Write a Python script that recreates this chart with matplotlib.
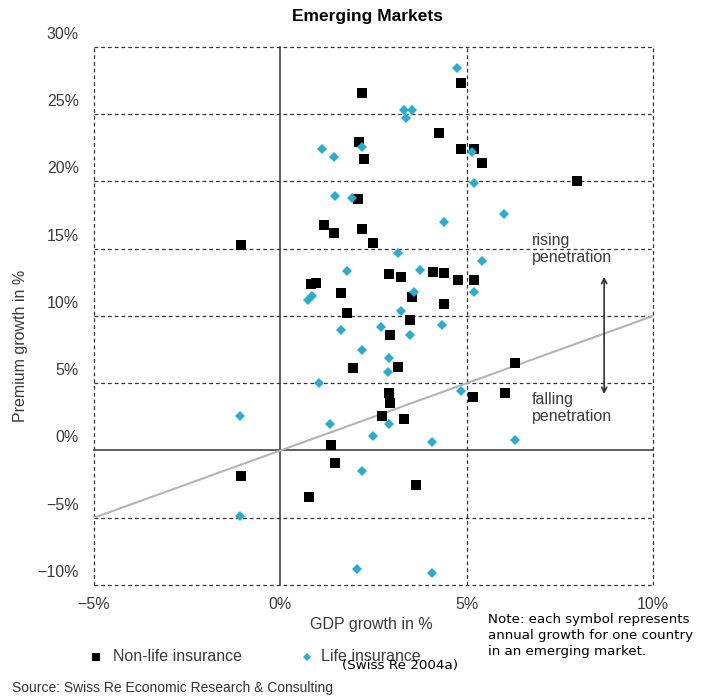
import matplotlib.pyplot as plt
from matplotlib.lines import Line2D
from matplotlib.transforms import ScaledTranslation

# GDP growth (x) and premium growth (y), in %, one point per country
nonlife_gdp = [2.18, 2.11, 2.24, 2.09, 1.17, 1.44, 2.19, 2.50, -1.05, 4.85,
               4.25, 4.84, 5.21, 5.41, 7.97, 0.83, 0.97, 1.62, 1.80, 1.96,
               2.92, 3.25, 4.11, 4.39, 4.76, 5.21, 3.54, 4.38, 3.49, 2.95,
               3.17, 6.31, 2.91, 5.17, 6.03, 2.95, 2.72, 3.33, 3.63, 1.37,
               1.48, -1.05, 0.77]
nonlife_premium = [26.6, 22.9, 21.7, 18.7, 16.8, 16.2, 16.5, 15.4, 15.3, 27.3,
                   23.6, 22.4, 22.4, 21.4, 20.0, 12.35, 12.45, 11.7, 10.2, 6.1,
                   13.1, 12.9, 13.25, 13.2, 12.7, 12.7, 11.4, 10.9, 9.7, 8.6,
                   6.2, 6.5, 4.3, 4.0, 4.3, 3.5, 2.6, 2.35, -2.55, 0.4,
                   -0.9, -1.9, -3.45]

life_gdp = [4.75, 3.31, 3.54, 3.36, 5.15, 5.21, 4.38, 6.01, 2.18, 1.13,
            1.44, 1.48, 1.92, 1.79, 0.75, 0.84, 1.62, 2.19, 1.04, 3.15,
            5.42, 3.74, 5.19, 3.60, 3.25, 2.70, 4.35, 3.47, 2.92, 2.90,
            4.85, 2.92, 4.08, 6.30, 4.06, -1.07, 1.34, 2.48, 2.18, -1.07,
            2.07]
life_premium = [28.4, 25.3, 25.35, 24.7, 22.2, 19.9, 17.0, 17.6, 22.55, 22.4,
                21.85, 18.95, 18.75, 13.35, 11.2, 11.5, 8.95, 7.45, 5.0, 14.7,
                14.1, 13.4, 11.8, 11.8, 10.4, 9.2, 9.3, 8.55, 6.85, 5.8,
                4.45, 1.95, 0.65, 0.75, -9.1, 2.6, 2.0, 1.05, -1.55, -4.9,
                -8.8]

x_ticks = [-5, 0, 5, 10]
x_tick_labels = ["\u22125%", "0%", "5%", "10%"]
y_ticks = [-10, -5, 0, 5, 10, 15, 20, 25, 30]
y_tick_labels = ["\u221210%", "\u22125%", "0%", "5%", "10%", "15%", "20%", "25%", "30%"]

# reference line: premium growth equal to GDP growth
trend_x = [-5, 10]
trend_y = [v for v in trend_x]

life_color = "#27AECF"
grid_color = "#333333"
text_color = "#3a3a3a"
font = "Liberation Sans"

fig = plt.figure(figsize=(7.05, 6.98), dpi=100)
ax = fig.add_axes([0.1333, 0.1619, 0.7929, 0.7708])
ax.set_xlim(x_ticks[0], x_ticks[-1])
ax.set_ylim(y_ticks[0], y_ticks[-1])
for side in ax.spines.values():
    side.set_visible(False)

# dashed frame and grid, solid zero axes
dash = (0, (3.0, 2.4))
for y in y_ticks:
    if y == 0:
        ax.axhline(y, color=grid_color, lw=1.1, zorder=2, clip_on=False)
    else:
        ax.axhline(y, color=grid_color, lw=0.9, ls=dash, zorder=1, clip_on=False)
for x in x_ticks:
    if x == 0:
        ax.axvline(x, color=grid_color, lw=1.1, zorder=2, clip_on=False)
    else:
        ax.axvline(x, color=grid_color, lw=0.9, ls=dash, zorder=1, clip_on=False)

ax.plot(trend_x, trend_y, color="#b3b3b3", lw=1.5, zorder=3)

ax.plot(nonlife_gdp, nonlife_premium, ls="none", marker="s", ms=6.6,
        color="black", mew=0, zorder=4)
ax.plot(life_gdp, life_premium, ls="none", marker="D", ms=4.8,
        color=life_color, mew=0, zorder=5)

# x ticks as usual
ax.set_xticks(x_ticks, x_tick_labels)
ax.tick_params(axis="x", length=0, pad=8.5, labelsize=11.5, labelcolor=text_color)
for lab in ax.get_xticklabels():
    lab.set_fontfamily(font)

# y tick labels sit a bit above their grid lines in the original
ax.set_yticks([])
lift = ScaledTranslation(0, 0.125, fig.dpi_scale_trans)
for y, lab in zip(y_ticks, y_tick_labels):
    ax.text(-0.027, y, lab, transform=ax.get_yaxis_transform() + lift,
            ha="right", va="center", fontsize=11.5, color=text_color, family=font)

ax.text(6.76, 14.96, "rising\npenetration", ha="left", va="center",
        fontsize=11.5, color=text_color, family=font, linespacing=1.15)
ax.text(6.76, 3.15, "falling\npenetration", ha="left", va="center",
        fontsize=11.5, color=text_color, family=font, linespacing=1.15)
ax.annotate("", xy=(8.69, 13.12), xytext=(8.69, 3.99),
            arrowprops=dict(arrowstyle="<->", color=grid_color, lw=1.2,
                            mutation_scale=9))

fig.text(368 / 705, 1 - 16 / 698, "Emerging Markets", ha="center", va="center",
         fontsize=12.5, fontweight="bold", family=font)
fig.text(21 / 705, 1 - 346 / 698, "Premium growth in %", rotation=90,
         ha="center", va="center", fontsize=11.5, color=text_color, family=font)
fig.text(371 / 705, 1 - 625 / 698, "GDP growth in %", ha="center", va="center",
         fontsize=11.5, color=text_color, family=font)

# legend drawn by hand below the axes
fig.add_artist(Line2D([96 / 705], [1 - 656.7 / 698], ls="none", marker="s",
                      ms=5.2, color="black", mew=0))
fig.text(113 / 705, 1 - 656.7 / 698, "Non-life insurance", ha="left", va="center",
         fontsize=11.5, color=text_color, family=font)
fig.add_artist(Line2D([307 / 705], [1 - 656.7 / 698], ls="none", marker="D",
                      ms=4.4, color=life_color, mew=0))
fig.text(321 / 705, 1 - 656.7 / 698, "Life insurance", ha="left", va="center",
         fontsize=11.5, color=text_color, family=font)
fig.text(342 / 705, 1 - 665 / 698, "(Swiss Re 2004a)", ha="left", va="center",
         fontsize=9.7, color="black", family="DejaVu Sans")

fig.text(488 / 705, 1 - 635.3 / 698,
         "Note: each symbol represents\nannual growth for one country\nin an emerging market.",
         ha="left", va="center", fontsize=9.6, color="black", family="DejaVu Sans",
         linespacing=1.3)

fig.text(12 / 705, 1 - 688 / 698, "Source: Swiss Re Economic Research & Consulting",
         ha="left", va="center", fontsize=10, color="#333333", family=font)

fig.savefig("out.png", dpi=100)
